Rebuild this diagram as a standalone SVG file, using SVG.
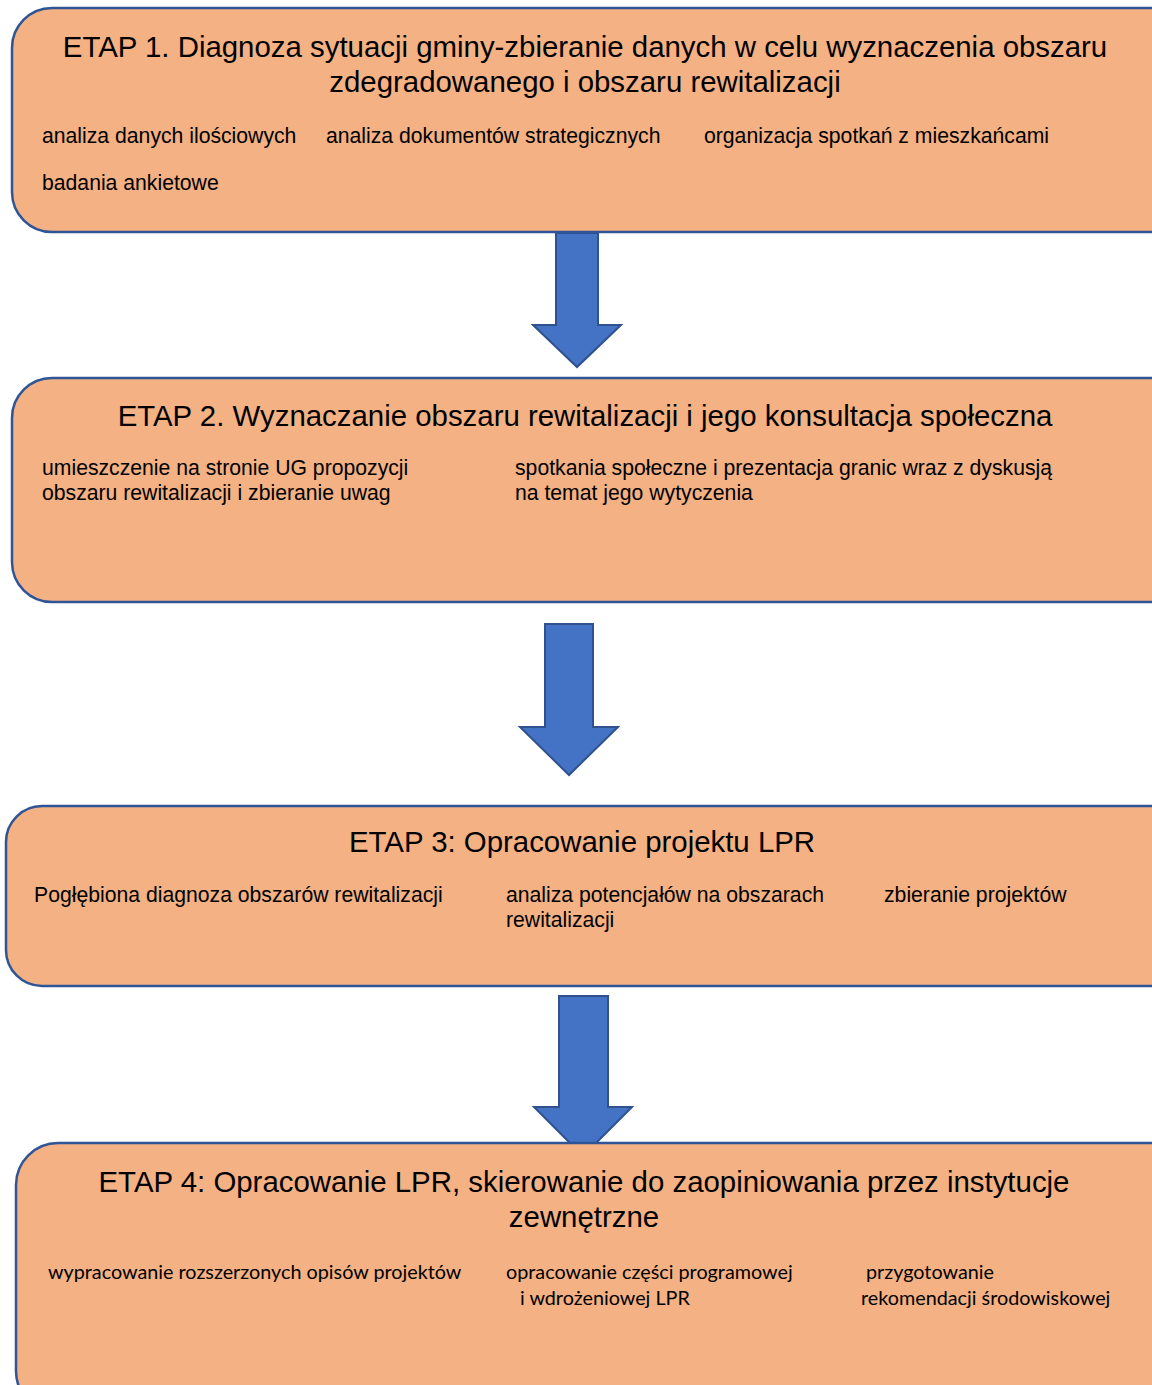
<svg xmlns="http://www.w3.org/2000/svg" width="1152" height="1385" viewBox="0 0 1152 1385">
<style>
.box{fill:#F4B183;stroke:#2F5597;stroke-width:2.5}
.arr{fill:#4472C4;stroke:#2F528F;stroke-width:2;stroke-linejoin:miter}
.t{font-size:29.4px;fill:#000;text-anchor:middle}
.s{font-size:21.2px;fill:#000}
.c{font-size:19.8px;fill:#000}
</style>
<rect width="1152" height="1385" fill="#fff"/>
<g id="connectors">
<polygon class="arr" points="556,233 598,233 598,325 621,325 577,367 533,325 556,325"/>
<polygon class="arr" points="545,624 593,624 593,727 618,727 569,775 520,727 545,727"/>
<polygon class="arr" points="559,996 608,996 608,1107 632,1107 583,1156 534,1107 559,1107"/>
</g>
<g id="etap1" font-family="Liberation Sans, Arial, sans-serif">
<rect class="box" x="12" y="8" width="1180" height="224" rx="40"/>
<text class="t" x="585" y="57">ETAP 1. Diagnoza sytuacji gminy-zbieranie danych w celu wyznaczenia obszaru</text>
<text class="t" x="585" y="92">zdegradowanego i obszaru rewitalizacji</text>
<text class="s" x="42" y="143">analiza danych ilościowych</text>
<text class="s" x="326" y="143">analiza dokumentów strategicznych</text>
<text class="s" x="704" y="143">organizacja spotkań z mieszkańcami</text>
<text class="s" x="42" y="190">badania ankietowe</text>
</g>
<g id="etap2" font-family="Liberation Sans, Arial, sans-serif">
<rect class="box" x="12" y="378" width="1180" height="224" rx="40"/>
<text class="t" x="585" y="426">ETAP 2. Wyznaczanie obszaru rewitalizacji i jego konsultacja społeczna</text>
<text class="s" x="42" y="475">umieszczenie na stronie UG propozycji</text>
<text class="s" x="42" y="500">obszaru rewitalizacji i zbieranie uwag</text>
<text class="s" x="515" y="475">spotkania społeczne i prezentacja granic wraz z dyskusją</text>
<text class="s" x="515" y="500">na temat jego wytyczenia</text>
</g>
<g id="etap3" font-family="Liberation Sans, Arial, sans-serif">
<rect class="box" x="6" y="806" width="1186" height="180" rx="36"/>
<text class="t" x="582" y="852">ETAP 3: Opracowanie projektu LPR</text>
<text class="s" x="34" y="902">Pogłębiona diagnoza obszarów rewitalizacji</text>
<text class="s" x="506" y="902">analiza potencjałów na obszarach</text>
<text class="s" x="506" y="927">rewitalizacji</text>
<text class="s" x="884" y="902">zbieranie projektów</text>
</g>
<g id="etap4" font-family="Liberation Sans, Arial, sans-serif">
<rect class="box" x="16" y="1143" width="1176" height="270" rx="42"/>
<text class="t" x="584" y="1192">ETAP 4: Opracowanie LPR, skierowanie do zaopiniowania przez instytucje</text>
<text class="t" x="584" y="1227">zewnętrzne</text>
<g font-family="Lato, sans-serif">
<text class="c" x="48" y="1279">wypracowanie rozszerzonych opisów projektów</text>
<text class="c" x="506" y="1279">opracowanie części programowej</text>
<text class="c" x="520" y="1305">i wdrożeniowej LPR</text>
<text class="c" x="866" y="1279">przygotowanie</text>
<text class="c" x="861" y="1305">rekomendacji środowiskowej</text>
</g>
</g>
</svg>
